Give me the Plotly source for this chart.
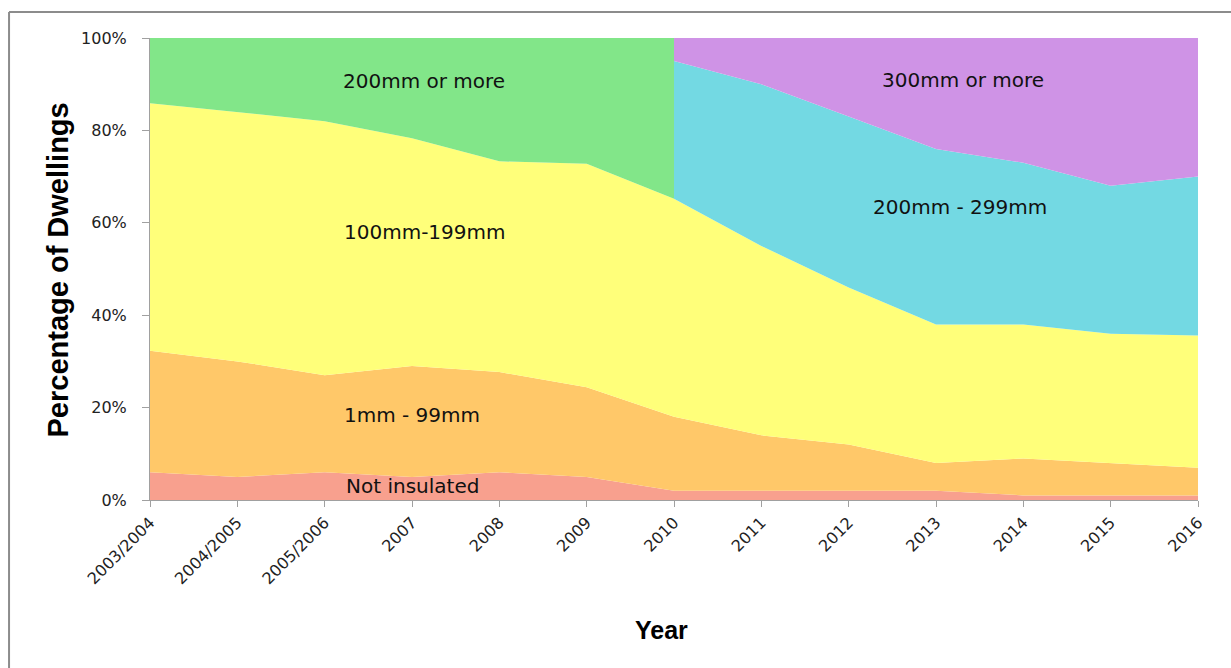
import numpy as np
import plotly.graph_objects as go

# Survey years
years = ["2003/2004", "2004/2005", "2005/2006", "2007", "2008", "2009", "2010",
         "2011", "2012", "2013", "2014", "2015", "2016"]

# Share of dwellings (%) by loft insulation thickness
not_insulated = [6, 5, 6, 5, 6, 5, 2, 2, 2, 2, 1, 1, 1]
mm_1_99 = [26.3, 25, 21, 24, 21.7, 19.4, 16, 12, 10, 6, 8, 7, 6]
mm_100_199 = [53.6, 54, 55, 49.3, 45.6, 48.4, 47.2, 41, 34, 30, 29, 28, 28.6]
# Old top band (2003/2004 - 2010)
mm_200_plus = [14.1, 16, 18, 21.7, 26.7, 27.2, 34.8]
# New top bands (2010 - 2016)
mm_200_299 = [29.8, 35, 37, 38, 35, 32, 34.4]
mm_300_plus = [5, 10, 17, 24, 27, 32, 30]

n = len(years)
x_all = np.arange(n)
x_old = x_all[:len(mm_200_plus)]
x_new = x_all[n - len(mm_200_299):]

# Stack the bands year by year
c1 = np.array(not_insulated, dtype=float)
c2 = c1 + np.array(mm_1_99)
c3 = c2 + np.array(mm_100_199)
c_old_top = c3[:len(x_old)] + np.array(mm_200_plus)
c_new_mid = c3[x_new[0]:] + np.array(mm_200_299)
c_new_top = c_new_mid + np.array(mm_300_plus)

col_none = "#F8A08E"
col_1_99 = "#FFC869"
col_100_199 = "#FFFF7A"
col_200_plus = "#82E689"
col_200_299 = "#73D9E3"
col_300_plus = "#CF93E6"

fig = go.Figure()


def band(x, lower, upper, color, name):
    xs = list(x) + list(x[::-1])
    ys = list(upper) + list(lower[::-1])
    fig.add_trace(go.Scatter(x=xs, y=ys, fill="toself", fillcolor=color,
                             mode="lines", line=dict(width=0, color=color),
                             name=name, hoverinfo="skip", showlegend=False))


zero = np.zeros(n)
band(x_all, zero, c1, col_none, "Not insulated")
band(x_all, c1, c2, col_1_99, "1mm - 99mm")
band(x_all, c2, c3, col_100_199, "100mm-199mm")
band(x_old, c3[:len(x_old)], c_old_top, col_200_plus, "200mm or more")
band(x_new, c3[x_new[0]:], c_new_mid, col_200_299, "200mm - 299mm")
band(x_new, c_new_mid, c_new_top, col_300_plus, "300mm or more")

label_font = dict(family="DejaVu Sans, sans-serif", size=20, color="#111111")
labels = [
    ("200mm or more", 3.14, 90.7),
    ("100mm-199mm", 3.15, 58.1),
    ("1mm - 99mm", 3.0, 18.5),
    ("Not insulated", 3.01, 3.1),
    ("300mm or more", 9.31, 90.9),
    ("200mm - 299mm", 9.27, 63.5),
]
for text, lx, ly in labels:
    fig.add_annotation(x=lx, y=ly, text=text, showarrow=False, font=label_font,
                       xanchor="center", yanchor="middle")

# Axis titles
fig.add_annotation(xref="paper", yref="paper", x=-0.0882, y=0.498,
                   xanchor="center", yanchor="middle",
                   text="<b>Percentage of Dwellings</b>", textangle=-90,
                   showarrow=False,
                   font=dict(family="Liberation Sans, Arial, sans-serif",
                             size=29, color="#000000"))
fig.add_annotation(xref="paper", yref="paper", x=0.4876, y=-0.281,
                   xanchor="center", yanchor="middle",
                   text="<b>Year</b>", showarrow=False,
                   font=dict(family="Liberation Sans, Arial, sans-serif",
                             size=25, color="#000000"))

# Outer chart frame (left and top edges)
frame = dict(color="#8C8C8C", width=2)
fig.add_shape(type="line", xref="paper", yref="paper",
              x0=-0.1345, x1=1.04, y0=1.0563, y1=1.0563, line=frame)
fig.add_shape(type="line", xref="paper", yref="paper",
              x0=-0.1345, x1=-0.1345, y0=1.0563, y1=-0.40, line=frame)

tick_font = dict(family="DejaVu Sans, sans-serif", size=16, color="#222222")
fig.update_xaxes(range=[0, n - 1], tickmode="array", tickvals=x_all,
                 ticktext=years, tickangle=-45, tickfont=tick_font,
                 showline=True, linecolor="#A0A0A0", linewidth=1,
                 ticks="outside", ticklen=6, tickcolor="#A0A0A0",
                 showgrid=False, zeroline=False, fixedrange=True)
fig.update_yaxes(range=[0, 100], dtick=20, ticksuffix="%", tickfont=tick_font,
                 showline=True, linecolor="#A0A0A0", linewidth=1,
                 ticks="outside", ticklen=7, tickcolor="#A0A0A0",
                 ticklabelstandoff=12,
                 showgrid=False, zeroline=False, fixedrange=True)

fig.update_layout(width=1231, height=668,
                  margin=dict(l=150, r=33, t=38, b=168),
                  paper_bgcolor="white", plot_bgcolor="white",
                  showlegend=False)

fig.write_html("out.html")
